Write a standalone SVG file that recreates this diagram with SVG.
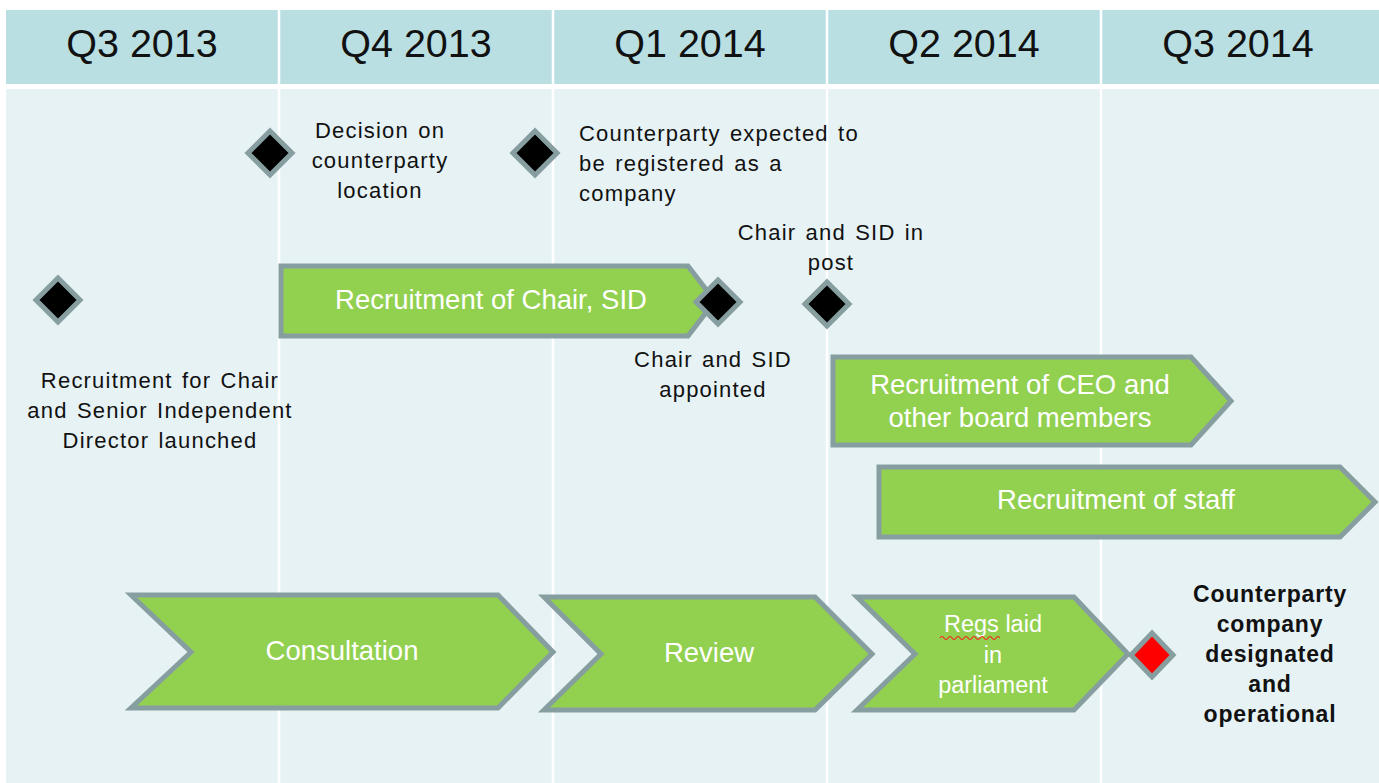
<svg xmlns="http://www.w3.org/2000/svg" width="1379" height="783" viewBox="0 0 1379 783">
<defs>
<style>
.hdr{fill:#b9dfe2}
.body{fill:#e6f2f4}
.col{stroke:#ffffff;stroke-width:2.5}
.qt{font-family:"Liberation Sans",Arial,sans-serif;font-size:39.5px;fill:#111;text-anchor:middle}
.arrow{fill:#92d050;stroke:#879ea0;stroke-width:5;stroke-linejoin:miter}
.ms{fill:#000;stroke:#879ea0;stroke-width:5}
.msr{fill:#ff0000;stroke:#879ea0;stroke-width:5}
.wt{font-family:"Liberation Sans",Arial,sans-serif;font-size:27.5px;fill:#ffffff;text-anchor:middle}
.wts{font-family:"Liberation Sans",Arial,sans-serif;font-size:23.5px;fill:#ffffff;text-anchor:middle}
.bt{font-family:"Liberation Sans",Arial,sans-serif;font-size:22px;fill:#111;letter-spacing:1.2px;word-spacing:2px}
.c{text-anchor:middle}
.bb{font-family:"Liberation Sans",Arial,sans-serif;font-size:23px;font-weight:bold;fill:#111;text-anchor:middle;letter-spacing:0.8px}
</style>
</defs>
<rect width="1379" height="783" fill="#ffffff"/>
<g id="grid">
<rect class="hdr" x="6" y="10" width="1373" height="74"/>
<rect class="body" x="6" y="89" width="1373" height="694"/>
<line class="col" x1="279" y1="10" x2="279" y2="783"/>
<line class="col" x1="553" y1="10" x2="553" y2="783"/>
<line class="col" x1="827" y1="10" x2="827" y2="783"/>
<line class="col" x1="1101" y1="10" x2="1101" y2="783"/>
<text class="qt" x="142" y="57">Q3 2013</text>
<text class="qt" x="416" y="57">Q4 2013</text>
<text class="qt" x="690" y="57">Q1 2014</text>
<text class="qt" x="964" y="57">Q2 2014</text>
<text class="qt" x="1238" y="57">Q3 2014</text>
</g>
<g id="connectors"></g>
<g id="recruit-chair">
<polygon class="arrow" points="281,266 688,266 715,301 688,336 281,336"/>
<text class="wt" x="491" y="309">Recruitment of Chair, SID</text>
</g>
<g id="recruit-ceo">
<polygon class="arrow" points="833,357 1191,357 1231,401 1191,445 833,445"/>
<text class="wt" x="1020" y="394">Recruitment of CEO and</text>
<text class="wt" x="1020" y="427">other board members</text>
</g>
<g id="recruit-staff">
<polygon class="arrow" points="879,467 1340,467 1375,502 1340,537 879,537"/>
<text class="wt" x="1116" y="509">Recruitment of staff</text>
</g>
<g id="consultation">
<polygon class="arrow" points="131,595 498,595 553,652 498,708 131,708 191,652"/>
<text class="wt" x="342" y="660">Consultation</text>
</g>
<g id="review">
<polygon class="arrow" points="544,597 815,597 872,654 815,710 544,710 601,654"/>
<text class="wt" x="709" y="662">Review</text>
</g>
<g id="regs">
<polygon class="arrow" points="857,597 1074,597 1128,654 1074,710 857,710 915,654"/>
<text class="wts" x="993" y="632">Regs laid</text>
<path d="M940,638 q2,-3 4,0 t4,0 t4,0 t4,0 t4,0 t4,0 t4,0 t4,0 t4,0 t4,0 t4,0 t4,0 t4,0 t4,0 t4,0" fill="none" stroke="#ff2020" stroke-width="1.2"/>
<text class="wts" x="993" y="663">in</text>
<text class="wts" x="993" y="693">parliament</text>
</g>
<g id="ms-launch">
<polygon class="ms" points="58,278 80,300 58,322 36,300"/>
<text class="bt c" x="160" y="388">Recruitment for Chair</text>
<text class="bt c" x="160" y="418">and Senior Independent</text>
<text class="bt c" x="160" y="448">Director launched</text>
</g>
<g id="ms-decision">
<polygon class="ms" points="270,131 292,153 270,175 248,153"/>
<text class="bt c" x="380" y="138">Decision on</text>
<text class="bt c" x="380" y="168">counterparty</text>
<text class="bt c" x="380" y="198">location</text>
</g>
<g id="ms-registered">
<polygon class="ms" points="535,131 557,153 535,175 513,153"/>
<text class="bt" x="579" y="141">Counterparty expected to</text>
<text class="bt" x="579" y="171">be registered as a</text>
<text class="bt" x="579" y="201">company</text>
</g>
<g id="ms-appointed">
<polygon class="ms" points="718,280 740,302 718,324 696,302"/>
<text class="bt c" x="713" y="367">Chair and SID</text>
<text class="bt c" x="713" y="397">appointed</text>
</g>
<g id="ms-inpost">
<polygon class="ms" points="827,282 849,304 827,326 805,304"/>
<text class="bt c" x="831" y="240">Chair and SID in</text>
<text class="bt c" x="831" y="270">post</text>
</g>
<g id="ms-operational">
<polygon class="msr" points="1152,633 1173,655 1152,677 1131,655"/>
<text class="bb" x="1270" y="602">Counterparty</text>
<text class="bb" x="1270" y="632">company</text>
<text class="bb" x="1270" y="662">designated</text>
<text class="bb" x="1270" y="692">and</text>
<text class="bb" x="1270" y="722">operational</text>
</g>
</svg>
